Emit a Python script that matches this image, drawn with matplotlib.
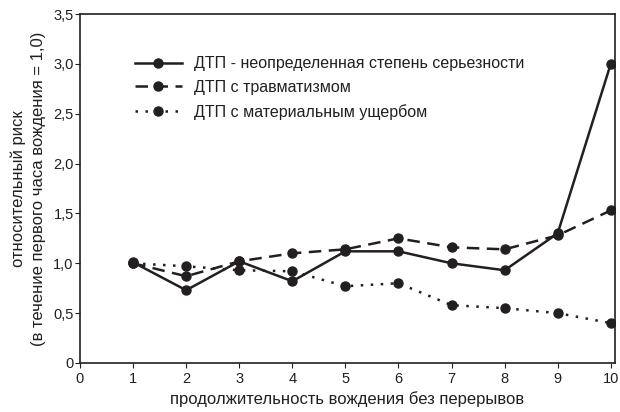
import matplotlib
matplotlib.use("Agg")
from matplotlib import pyplot as plt
from matplotlib.ticker import FuncFormatter

hours = [1, 2, 3, 4, 5, 6, 7, 8, 9, 10]
risk_any = [1.01, 0.73, 1.02, 0.82, 1.12, 1.12, 1.00, 0.93, 1.30, 3.00]
risk_injury = [1.00, 0.87, 1.02, 1.10, 1.14, 1.25, 1.16, 1.14, 1.28, 1.53]
risk_damage = [1.00, 0.97, 0.93, 0.92, 0.77, 0.80, 0.58, 0.55, 0.50, 0.40]

labels = ["ДТП - неопределенная степень серьезности",
          "ДТП с травматизмом",
          "ДТП с материальным ущербом"]

ink = '#231f20'
plt.rcParams['font.family'] = ['Liberation Sans', 'DejaVu Sans']

fig = plt.figure(figsize=(6.2, 4.12), dpi=100)
ax = fig.add_axes([80 / 620, 1 - 363 / 412, 535 / 620, 349 / 412])

ax.plot(hours, risk_any, color=ink, lw=1.8, ls='-', marker='o', ms=6.5, label=labels[0])
ax.plot(hours, risk_injury, color=ink, lw=1.8, ls=(0, (5, 3)), marker='o', ms=6.5, label=labels[1])
ax.plot(hours, risk_damage, color=ink, lw=1.8, ls=(0, (1, 3)), marker='o', ms=6.5, label=labels[2])

ax.set_xlim(0, 10.08)
ax.set_ylim(0, 3.5)
ax.set_xticks(range(0, 11))
ax.set_yticks([0, 0.5, 1.0, 1.5, 2.0, 2.5, 3.0, 3.5])

fmt = FuncFormatter(lambda v, p: '0' if v == 0 else ('%.1f' % v).replace('.', ','))
ax.yaxis.set_major_formatter(fmt)
ax.xaxis.set_major_formatter(FuncFormatter(lambda v, p: '%d' % v))
ax.tick_params(axis='both', labelsize=10.5, colors=ink, length=3.5, width=0.8)
ax.tick_params(axis='x', pad=3)
ax.tick_params(axis='y', pad=1)

for s in ax.spines.values():
    s.set_color(ink)
    s.set_linewidth(1.2)

ax.set_xlabel('продолжительность вождения без перерывов', fontsize=12, color=ink, labelpad=4)
ax.set_ylabel('относительный риск\n(в течение первого часа вождения = 1,0)', fontsize=12,
              color=ink, labelpad=5, linespacing=1.45)

ax.legend(loc='upper left', bbox_to_anchor=(0.075, 0.92), frameon=False, fontsize=11.5,
          handlelength=3.0, labelspacing=0.55, handletextpad=0.7, labelcolor=ink)

fig.savefig('out.png', dpi=100)
